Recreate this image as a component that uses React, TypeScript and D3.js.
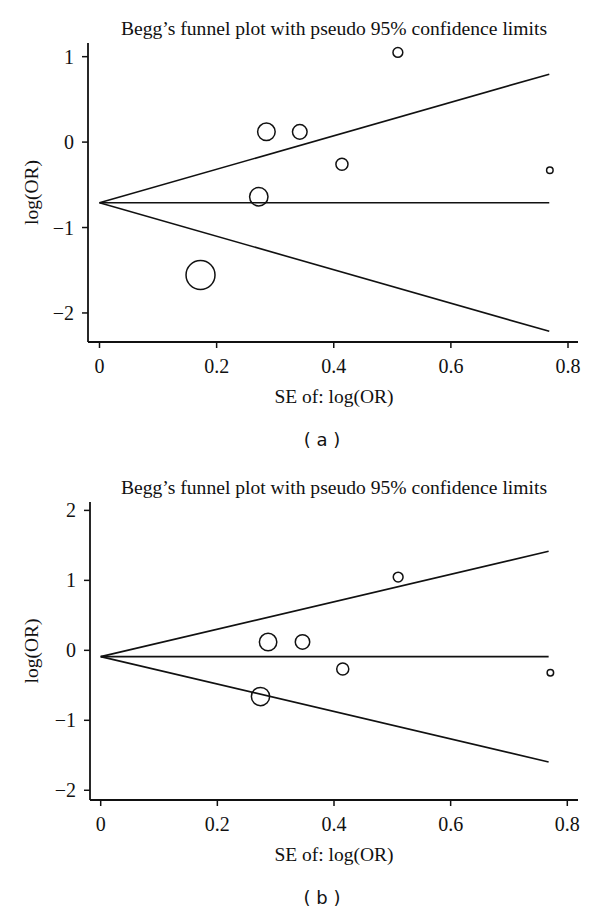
import React from "react";
import * as d3 from "d3";

// ---- Data ----
const seA = [0.1725, 0.285, 0.342, 0.272, 0.414, 0.5095, 0.769];
const logOrA = [-1.556, 0.12, 0.12, -0.64, -0.26, 1.05, -0.33];
const pooledA = -0.71;

const seB = [0.287, 0.346, 0.274, 0.415, 0.51, 0.771];
const logOrB = [0.119, 0.12, -0.66, -0.267, 1.047, -0.32];
const pooledB = -0.09;

const seMax = 0.768;
const xTicks = [0, 0.2, 0.4, 0.6, 0.8];
const yTicksA = [-2, -1, 0, 1];
const yTicksB = [-2, -1, 0, 1, 2];

const TITLE = "Begg\u2019s funnel plot with pseudo 95% confidence limits";
const X_LABEL = "SE of: log(OR)";
const Y_LABEL = "log(OR)";

const SERIF = "Liberation Serif, Times New Roman, serif";
const SANS = "DejaVu Sans, sans-serif";

function fmtTick(v: number) {
  if (v === 0) return "0";
  return (v < 0 ? "\u2212" : "") + String(Math.abs(v));
}

type PanelProps = {
  se: number[];
  logOr: number[];
  pooled: number;
  yTicks: number[];
  yDomain: [number, number];
  top: number;
  bottom: number;
  axisX: number;
  x0: number;
  x08: number;
  right: number;
  titleY: number;
  label: string;
};

function Panel(p: PanelProps) {
  const x = d3.scaleLinear().domain([0, 0.8]).range([p.x0, p.x08]);
  const y = d3.scaleLinear().domain(p.yDomain).range([p.bottom, p.top]);
  const r = d3.scaleLinear().domain([0, 1]).range([0, 2.5]);
  const line = d3
    .line<[number, number]>()
    .x((d) => x(d[0]))
    .y((d) => y(d[1]));
  const z = 1.96;
  const upper: [number, number][] = [
    [0, p.pooled],
    [seMax, p.pooled + z * seMax],
  ];
  const lower: [number, number][] = [
    [0, p.pooled],
    [seMax, p.pooled - z * seMax],
  ];
  const mid: [number, number][] = [
    [0, p.pooled],
    [seMax, p.pooled],
  ];
  const centerX = 334;
  return (
    <g>
      <text
        x={centerX}
        y={p.titleY}
        textAnchor="middle"
        fontFamily={SERIF}
        fontSize={19.6}
        fill="#111"
      >
        {TITLE}
      </text>
      <line x1={p.axisX} x2={p.axisX} y1={p.top} y2={p.bottom} stroke="#111" strokeWidth={1.8} />
      <line x1={p.axisX} x2={p.right} y1={p.bottom} y2={p.bottom} stroke="#111" strokeWidth={1.8} />
      {p.yTicks.map((t) => (
        <g key={"y" + t}>
          <line x1={p.axisX - 6} x2={p.axisX} y1={y(t)} y2={y(t)} stroke="#111" strokeWidth={1.5} />
          <text
            x={p.axisX - 14}
            y={y(t)}
            dy="0.35em"
            textAnchor="end"
            fontFamily={SERIF}
            fontSize={20}
            fill="#111"
          >
            {fmtTick(t)}
          </text>
        </g>
      ))}
      {xTicks.map((t) => (
        <g key={"x" + t}>
          <line x1={x(t)} x2={x(t)} y1={p.bottom} y2={p.bottom + 6} stroke="#111" strokeWidth={1.5} />
          <text
            x={x(t)}
            y={p.bottom + 24}
            dy="0.35em"
            textAnchor="middle"
            fontFamily={SERIF}
            fontSize={20}
            fill="#111"
          >
            {fmtTick(t)}
          </text>
        </g>
      ))}
      <text
        x={centerX}
        y={p.bottom + 61}
        textAnchor="middle"
        fontFamily={SERIF}
        fontSize={19.5}
        fill="#111"
      >
        {X_LABEL}
      </text>
      <text
        transform={`translate(38, ${(p.top + p.bottom) / 2}) rotate(-90)`}
        textAnchor="middle"
        fontFamily={SERIF}
        fontSize={19.5}
        fill="#111"
      >
        {Y_LABEL}
      </text>
      <path d={line(upper) || ""} fill="none" stroke="#111" strokeWidth={1.6} />
      <path d={line(lower) || ""} fill="none" stroke="#111" strokeWidth={1.6} />
      <path d={line(mid) || ""} fill="none" stroke="#111" strokeWidth={1.6} />
      {p.se.map((s, i) => (
        <circle
          key={i}
          cx={x(s)}
          cy={y(p.logOr[i])}
          r={r(1 / s)}
          fill="none"
          stroke="#111"
          strokeWidth={1.5}
        />
      ))}
      <text
        x={322}
        y={p.bottom + 98}
        dy="0.35em"
        textAnchor="middle"
        fontFamily={SANS}
        fontSize={18}
        fill="#111"
        style={{ whiteSpace: "pre" }}
      >
        {"( " + p.label + " )"}
      </text>
    </g>
  );
}

export default function App() {
  return (
    <svg
      width={600}
      height={915}
      style={{ position: "absolute", left: 0, top: 0, background: "#fff" }}
    >
      <rect x={0} y={0} width={600} height={915} fill="#fff" />
      <Panel
        se={seA}
        logOr={logOrA}
        pooled={pooledA}
        yTicks={yTicksA}
        yDomain={[-2.34, 1.16]}
        top={43}
        bottom={342}
        axisX={88}
        x0={99.5}
        x08={568}
        right={578}
        titleY={35}
        label="a"
      />
      <Panel
        se={seB}
        logOr={logOrB}
        pooled={pooledB}
        yTicks={yTicksB}
        yDomain={[-2.139, 2.12]}
        top={502}
        bottom={800}
        axisX={90}
        x0={100.7}
        x08={567.3}
        right={578}
        titleY={494}
        label="b"
      />
    </svg>
  );
}
